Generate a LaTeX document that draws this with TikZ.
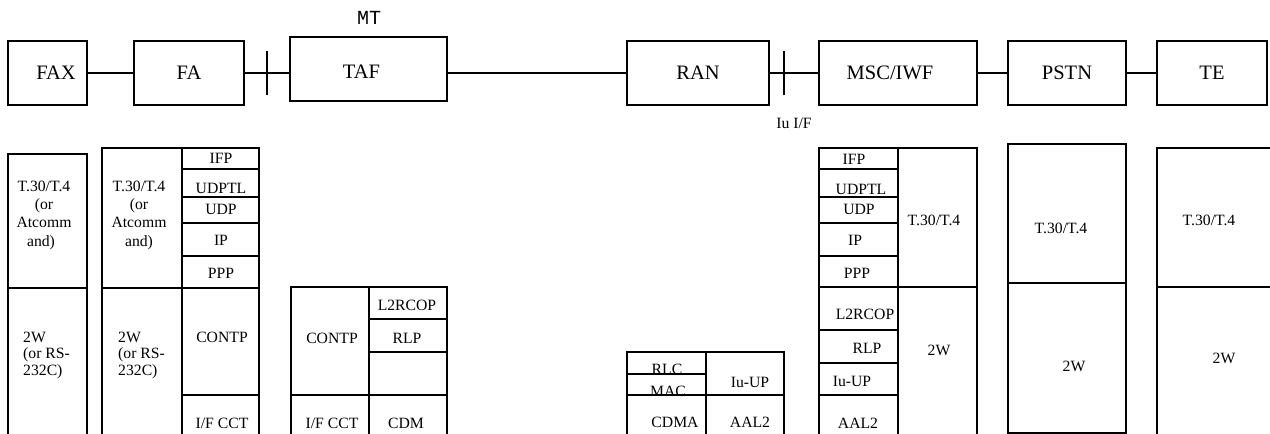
\documentclass[tikz,border=0pt]{standalone}
\usepackage{fontspec}
\setmainfont{Liberation Serif}
\newfontfamily\monofont{Liberation Mono}
\begin{document}
\begin{tikzpicture}[x=1pt,y=-1pt,
  topbox/.style={draw, line width=1.3pt, inner sep=0pt, minimum height=64pt, font=\fontsize{20.5}{24}\selectfont},
  conn/.style={line width=1.8pt},
  stk/.style={line width=1.3pt},
  lbl/.style={font=\fontsize{15.7}{18.3}\selectfont, inner sep=0pt, align=center},
  lbl2/.style={font=\fontsize{15.7}{16.5}\selectfont, inner sep=0pt, align=left, anchor=west},
]
\useasboundingbox (0,0) rectangle (1270,434);

% ---- top row ----
\node[topbox, minimum width=79pt]  (fax)  at (47.5,73) {\hspace*{17pt}FAX};
\node[topbox, minimum width=110pt] (fa)   at (189,73)  {FA};
\node[topbox, minimum width=157pt] (taf)  at (368.5,69) {\raisebox{-9.8pt}[0pt][0pt]{TAF}\hspace*{14pt}};
\node[topbox, minimum width=142pt] (ran)  at (698,73)  {RAN};
\node[topbox, minimum width=158pt] (msc)  at (898,73)  {MSC/IWF\hspace*{16pt}};
\node[topbox, minimum width=118pt] (pstn) at (1067,73) {PSTN};
\node[topbox, minimum width=110pt] (te)   at (1212,73) {TE};

\node[font=\monofont\fontsize{20}{24}\selectfont, inner sep=0pt] (mt) at (369,18) {MT};
\node[lbl] (iu) at (794,123) {Iu I/F};

\draw[conn] (fax.east) -- (fa.west);
\draw[conn] (fa.east) -- (fa.east -| taf.west) coordinate[pos=0.5] (t1);
\draw[conn] (ran.west -| taf.east) -- (ran.west);
\draw[conn] (ran.east) -- (msc.west) coordinate[pos=0.3] (t2);
\draw[conn] (msc.east) -- (pstn.west);
\draw[conn] (pstn.east) -- (te.west);
\draw[conn] ([yshift=-22pt]t1) -- ([yshift=22pt]t1);
\draw[conn] ([yshift=-22pt]t2) -- ([yshift=22pt]t2);

% ---- stack 1 (FAX) ----
\draw[stk] (8,434) -- (8,154) -- (87,154) -- (87,434);
\draw[stk] (8,288) -- (87,288);
\node[lbl] (s1a) at (44,215) {T.30/T.4\\(or\hspace*{18pt}\\Atcomm\\and)\hspace*{6pt}};
\node[lbl2] (s1b) at (23,355) {2W\\(or RS-\\232C)};

% ---- stack 2 (FA) ----
\draw[stk] (102,434) -- (102,148) -- (259,148) -- (259,434);
\draw[stk] (182,148) -- (182,434);
\draw[stk] (102,288) -- (259,288);
\foreach \yy in {169,197,223,256,395} \draw[stk] (182,\yy) -- (259,\yy);
\node[lbl] (s2a) at (139,215) {T.30/T.4\\(or\hspace*{12pt}\\Atcomm\\and)};
\node[lbl2] (s2b) at (118,355) {2W\\(or RS-\\232C)};
\node[lbl] at (221,158) {IFP};
\node[lbl] at (221,188) {UDPTL};
\node[lbl] at (221,209) {UDP};
\node[lbl] at (221,240) {IP};
\node[lbl] at (221,273) {PPP};
\node[lbl] at (222,337) {CONTP};
\node[lbl] at (222,423) {I/F CCT};

% ---- stack 3 (TAF) ----
\draw[stk] (291,434) -- (291,287) -- (447,287) -- (447,434);
\draw[stk] (369,287) -- (369,434);
\draw[stk] (369,319) -- (447,319);
\draw[stk] (369,352) -- (447,352);
\draw[stk] (291,395) -- (447,395);
\node[lbl] at (332,338) {CONTP};
\node[lbl] at (407,305) {L2RCOP};
\node[lbl] at (407,338) {RLP};
\node[lbl] at (332,423) {I/F CCT};
\node[lbl] at (406,423) {CDM};

% ---- stack 4 (RAN) ----
\draw[stk] (627,434) -- (627,352) -- (784,352) -- (784,434);
\draw[stk] (706,352) -- (706,434);
\draw[stk] (627,374) -- (706,374);
\draw[stk] (627,395) -- (784,395);
\node[lbl, anchor=base] at (667,374.5) {RLC};
\node[lbl, anchor=base] at (668,396) {MAC};
\node[lbl] at (750,382) {Iu-UP};
\node[lbl] at (675,422) {CDMA};
\node[lbl] at (750,422) {AAL2};

% ---- stack 5 (MSC/IWF) ----
\draw[stk] (819,434) -- (819,148) -- (977,148) -- (977,434);
\draw[stk] (898,148) -- (898,434);
\draw[stk] (819,287) -- (977,287);
\foreach \yy in {169,197,223,256,330,363,395} \draw[stk] (819,\yy) -- (898,\yy);
\node[lbl] at (854,159) {IFP};
\node[lbl] at (861,189) {UDPTL};
\node[lbl] at (859,209) {UDP};
\node[lbl] at (855,240) {IP};
\node[lbl] at (857,273) {PPP};
\node[lbl] at (865,314) {L2RCOP};
\node[lbl] at (867,348) {RLP};
\node[lbl] at (852,381) {Iu-UP};
\node[lbl] at (858,423) {AAL2};
\node[lbl] at (934,220) {T.30/T.4};
\node[lbl] at (939,350) {2W};

% ---- stack 6 (PSTN) ----
\draw[stk] (1008,144) rectangle (1126,433);
\draw[stk] (1008,283) -- (1126,283);
\node[lbl] at (1061,228) {T.30/T.4};
\node[lbl] at (1074,366) {2W};

% ---- stack 7 (TE) ----
\draw[stk] (1275,148) -- (1157,148) -- (1157,434);
\draw[stk] (1157,287) -- (1275,287);
\node[lbl] at (1209,220) {T.30/T.4};
\node[lbl] at (1224,358) {2W};
\end{tikzpicture}
\end{document}
